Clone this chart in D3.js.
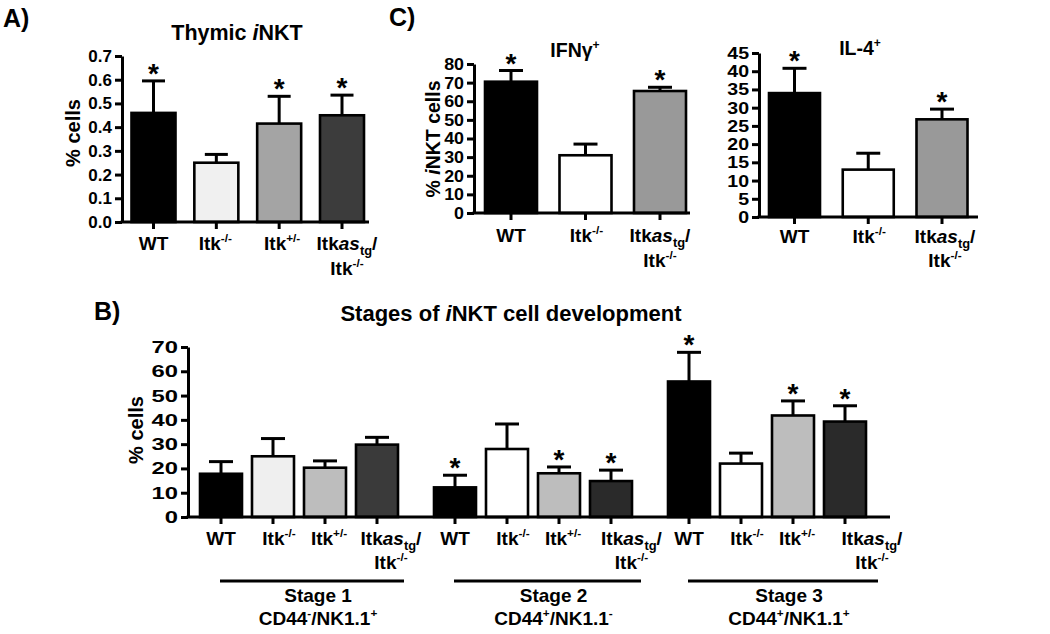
<!DOCTYPE html>
<html><head><meta charset="utf-8">
<script src="https://cdn.jsdelivr.net/npm/d3@7"></script>
<style>
body{margin:0;background:#fff}
svg{display:block}
text{font-family:"Liberation Sans",Arial,Helvetica,sans-serif;font-weight:bold;fill:#000}
</style>
</head><body>
<svg id="chart" width="1050" height="634"></svg>
<script>
// ---------- DATA ----------
// Panel A: Thymic iNKT (% cells)
const thymicCats = ["WT", "Itk^{-/-}", "Itk^{+/-}", "Itk*as*_{tg}/\nItk^{-/-}"];
const thymicMeans = [0.46, 0.25, 0.415, 0.45];
const thymicErrors = [0.135, 0.035, 0.115, 0.085];
const thymicSig = [true, false, true, true];
const thymicColors = ["#000000", "#f0f0f0", "#a4a4a4", "#3c3c3c"];
const thymicTicks = [0, 0.1, 0.2, 0.3, 0.4, 0.5, 0.6, 0.7];

// Panel C: cytokine production (% iNKT cells)
const cytoCats = ["WT", "Itk^{-/-}", "Itk*as*_{tg}/\nItk^{-/-}"];
const ifngMeans = [70.5, 31, 65.5];
const ifngErrors = [6, 6, 2];
const ifngSig = [true, false, true];
const ifngTicks = [0, 10, 20, 30, 40, 50, 60, 70, 80];
const il4Means = [34, 13, 26.8];
const il4Errors = [6.8, 4.5, 2.8];
const il4Sig = [true, false, true];
const il4Ticks = [0, 5, 10, 15, 20, 25, 30, 35, 40, 45];
const cytoColors = ["#000000", "#ffffff", "#999999"];

// Panel B: stages of iNKT development (% cells)
const stageCats = ["WT", "Itk^{-/-}", "Itk^{+/-}", "Itk*as*_{tg}/\nItk^{-/-}"];
const stageNames = ["Stage 1", "Stage 2", "Stage 3"];
const stageMarkers = ["CD44^{-}/NK1.1^{+}", "CD44^{+}/NK1.1^{-}", "CD44^{+}/NK1.1^{+}"];
const stage1Means = [17.8, 25, 20.3, 29.8];
const stage1Errors = [5, 7.3, 2.8, 3];
const stage1Sig = [false, false, false, false];
const stage2Means = [12.2, 28, 18, 14.8];
const stage2Errors = [5, 10.3, 2.6, 4.5];
const stage2Sig = [true, false, true, true];
const stage3Means = [55.8, 22, 41.8, 39.3];
const stage3Errors = [12, 4.3, 6, 6.5];
const stage3Sig = [true, false, true, true];
const stageColors = [
  ["#000000", "#efefef", "#bdbdbd", "#3a3a3a"],
  ["#000000", "#ffffff", "#bdbdbd", "#2a2a2a"],
  ["#000000", "#ffffff", "#bdbdbd", "#2a2a2a"]
];
const stageTicks = [0, 10, 20, 30, 40, 50, 60, 70];

// ---------- RENDERING ----------
const svg = d3.select("#chart");
const tokRe = /(\^\{[^}]*\}|_\{[^}]*\}|\*[^*]*\*|[^\^_*]+)/g;

function rich(parent, str, x, y, size, opts = {}) {
  const anchor = opts.anchor || "middle";
  const lh = opts.lh || size * 1.25;
  const g = parent.append("g");
  if (opts.rotate) g.attr("transform", `translate(${x},${y}) rotate(${opts.rotate})`);
  const ox = opts.rotate ? 0 : x, oy = opts.rotate ? 0 : y;
  str.split("\n").forEach((ln, li) => {
    const t = g.append("text").attr("x", ox).attr("y", oy + li * lh)
      .attr("text-anchor", anchor).style("font-size", size + "px");
    let cur = 0;
    (ln.match(tokRe) || []).forEach(tok => {
      let txt = tok, shift = 0, fs = size, it = false;
      if (tok.startsWith("^{")) { txt = tok.slice(2, -1); shift = -0.40 * size; fs = 0.62 * size; }
      else if (tok.startsWith("_{")) { txt = tok.slice(2, -1); shift = 0.25 * size; fs = 0.68 * size; }
      else if (tok.startsWith("*")) { txt = tok.slice(1, -1); it = true; }
      const ts = t.append("tspan").text(txt).attr("dy", shift - cur).style("font-size", fs + "px");
      if (it) ts.style("font-style", "italic");
      cur = shift;
    });
  });
  return g;
}

function drawPanel(p) {
  const g = svg.append("g");
  const y = d3.scaleLinear().domain([0, p.ymax]).range([p.y0, p.y1]);
  const data = p.means.map((m, i) => ({
    m, e: p.errs[i], s: p.sig[i], col: p.colors[i], x: p.xc(i), label: p.labels[i], dx: p.labDx(i)
  }));
  // error bars (upper)
  g.selectAll(".err").data(data).join("line")
    .attr("x1", d => d.x).attr("x2", d => d.x)
    .attr("y1", d => y(d.m)).attr("y2", d => y(d.m + d.e))
    .attr("stroke", "#000").attr("stroke-width", 3);
  g.selectAll(".cap").data(data).join("line")
    .attr("x1", d => d.x - p.capW / 2).attr("x2", d => d.x + p.capW / 2)
    .attr("y1", d => y(d.m + d.e)).attr("y2", d => y(d.m + d.e))
    .attr("stroke", "#000").attr("stroke-width", 3);
  // bars
  g.selectAll(".bar").data(data).join("rect")
    .attr("x", d => d.x - p.barW / 2).attr("width", p.barW)
    .attr("y", d => y(d.m)).attr("height", d => y(0) - y(d.m))
    .attr("fill", d => d.col).attr("stroke", "#000").attr("stroke-width", 2.6);
  // significance stars
  g.selectAll(".star").data(data.filter(d => d.s)).join("text")
    .attr("x", d => d.x).attr("y", d => y(d.m + d.e) + p.starOff)
    .attr("text-anchor", "middle").style("font-size", p.starSize + "px").text("*");
  // y axis
  const ya = g.append("g").attr("transform", `translate(${p.ax},0)`)
    .call(d3.axisLeft(y).tickValues(p.ticks).tickFormat(p.fmt).tickSize(7).tickSizeOuter(0).tickPadding(3));
  ya.select(".domain").attr("stroke-width", 3).attr("stroke", "#000");
  ya.selectAll(".tick line").attr("stroke-width", 3).attr("stroke", "#000");
  ya.selectAll(".tick text").style("font-size", p.tickSize + "px")
    .style("font-family", '"Liberation Sans",Arial,sans-serif').style("font-weight", "bold").attr("fill", "#000")
    .attr("x", 0).attr("transform", `translate(-10,0) scale(${p.tickSX},1)`);
  // x axis line + ticks
  g.append("line").attr("x1", p.ax - 1.5).attr("x2", p.xEnd).attr("y1", y(0)).attr("y2", y(0))
    .attr("stroke", "#000").attr("stroke-width", 3);
  g.selectAll(".xt").data(data).join("line")
    .attr("x1", d => d.x).attr("x2", d => d.x).attr("y1", y(0)).attr("y2", y(0) + 7)
    .attr("stroke", "#000").attr("stroke-width", 3);
  // category labels
  data.forEach(d => rich(g, d.label, d.x + d.dx, p.labY, p.labSize, { lh: p.labLH }));
  return { g, y };
}

// Panel labels
rich(svg, "A)", 3, 27, 25, { anchor: "start" });
rich(svg, "C)", 389, 26, 25, { anchor: "start" });
rich(svg, "B)", 94, 320, 25, { anchor: "start" });

// ----- Panel A -----
const xA = d3.scalePoint().domain(d3.range(thymicCats.length)).range([153.5, 342]);
drawPanel({
  means: thymicMeans, errs: thymicErrors, sig: thymicSig, colors: thymicColors, labels: thymicCats,
  ymax: 0.7, y0: 222, y1: 56, ax: 122, xEnd: 369, xc: i => xA(i), barW: 44, capW: 23,
  ticks: thymicTicks, fmt: d3.format(".1f"), tickSize: 17, tickSX: 1.0,
  labY: 250, labSize: 19, labLH: 25, labDx: i => [0, -1, 3, 5][i],
  starOff: 2, starSize: 28
});
rich(svg, "Thymic *i*NKT", 237, 40, 21.5);
rich(svg, "% cells", 80, 133, 20, { rotate: -90 });

// ----- Panel C: IFNγ -----
const xI = d3.scalePoint().domain(d3.range(cytoCats.length)).range([511, 660]);
drawPanel({
  means: ifngMeans, errs: ifngErrors, sig: ifngSig, colors: cytoColors, labels: cytoCats,
  ymax: 80, y0: 213, y1: 64, ax: 474, xEnd: 690, xc: i => xI(i), barW: 52, capW: 24,
  ticks: ifngTicks, fmt: d3.format("d"), tickSize: 17, tickSX: 1.05,
  labY: 242, labSize: 19, labLH: 25, labDx: i => [0, 1, 0][i],
  starOff: 2, starSize: 28
});
rich(svg, "IFNγ^{+}", 575, 57, 19.5);
rich(svg, "% *i*NKT cells", 440, 139, 19.5, { rotate: -90 });

// ----- Panel C: IL-4 -----
const xL = d3.scalePoint().domain(d3.range(cytoCats.length)).range([794.5, 942]);
drawPanel({
  means: il4Means, errs: il4Errors, sig: il4Sig, colors: cytoColors, labels: cytoCats,
  ymax: 45, y0: 217, y1: 53, ax: 759, xEnd: 978, xc: i => xL(i), barW: 51, capW: 24,
  ticks: il4Ticks, fmt: d3.format("d"), tickSize: 17, tickSX: 1.15,
  labY: 243, labSize: 19, labLH: 24, labDx: i => [0, 1, 3][i],
  starOff: 2, starSize: 28
});
rich(svg, "IL-4^{+}", 860, 55, 19.5);

// ----- Panel B -----
const slot = d3.scaleLinear().domain([0, 12]).range([221, 845]);
const stageMeans = [stage1Means, stage2Means, stage3Means];
const stageErrors = [stage1Errors, stage2Errors, stage3Errors];
const stageSig = [stage1Sig, stage2Sig, stage3Sig];
const bMeans = stageMeans.flat(), bErrs = stageErrors.flat(), bSig = stageSig.flat();
const bColors = stageColors.flat();
const bLabels = stageNames.flatMap(() => stageCats);
const bX = i => slot((i % 4) + Math.floor(i / 4) * 4.5);
drawPanel({
  means: bMeans, errs: bErrs, sig: bSig, colors: bColors, labels: bLabels,
  ymax: 70, y0: 517, y1: 347, ax: 188, xEnd: 890, xc: bX, barW: 42, capW: 24,
  ticks: stageTicks, fmt: d3.format("d"), tickSize: 17, tickSX: 1.4,
  labY: 545, labSize: 19, labLH: 24,
  labDx: i => { const k = i % 4, gi = Math.floor(i / 4); return k === 3 ? 14 + 6.5 * gi : [0, 6, 4][k]; },
  starOff: 2, starSize: 28
});
rich(svg, "Stages of *i*NKT cell development", 511, 321, 22);
rich(svg, "% cells", 143, 430, 20, { rotate: -90 });
stageNames.forEach((name, gi) => {
  const x1 = bX(gi * 4) - 1, x2 = bX(gi * 4 + 3) + 27 + 3 * gi;
  svg.append("line").attr("x1", x1).attr("x2", x2).attr("y1", 581).attr("y2", 581)
    .attr("stroke", "#000").attr("stroke-width", 3);
  const cx = (x1 + x2) / 2 + 6;
  rich(svg, name, cx, 602, 19);
  rich(svg, stageMarkers[gi], cx, 625, 19);
});
</script>
</body></html>
